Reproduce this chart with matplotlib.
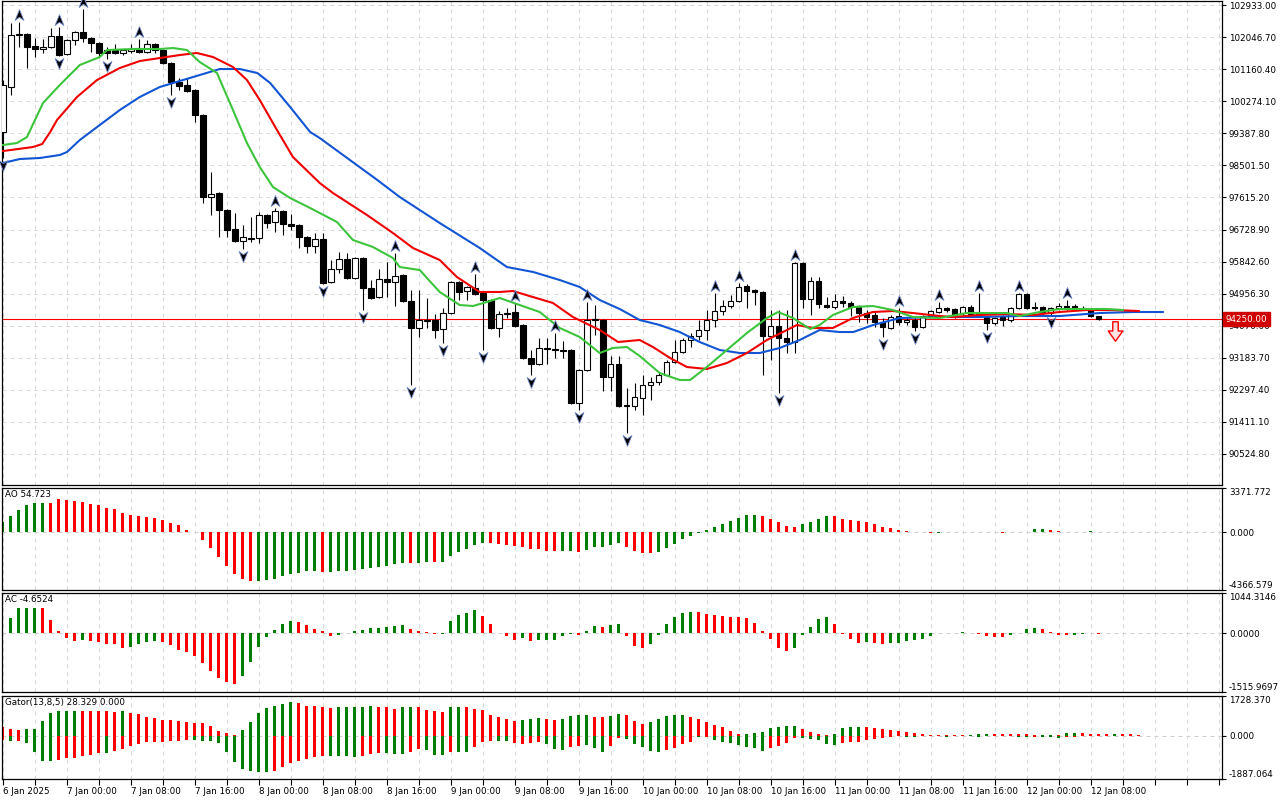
import numpy as np
import matplotlib.pyplot as plt
from matplotlib.path import Path
from matplotlib.transforms import offset_copy

# hourly candles, first bar = 6 Jan 16:00
opens = [99423, 100667, 102118, 102132, 101800, 101717, 101772, 102076, 101579, 101966,
         102187, 102021, 101883, 101689, 101689, 101607, 101662, 101745, 101634, 101855,
         101689, 101330, 100805, 100722, 100584, 99893, 97627, 97738, 97268, 96743,
         96411, 96480, 96494, 97130, 96936, 97240, 96881, 96853, 96522, 96273,
         96466, 95278, 95637, 95914, 95388, 95941, 95112, 94863, 95361, 95278,
         95471, 94753, 94007, 94214, 94228, 93979, 94421, 95278, 95029, 95112,
         94974, 94780, 94007, 94394, 94449, 94090, 93178, 93012, 93454, 93426,
         93399, 93399, 91934, 92846, 94228, 94228, 92652, 93012, 91851, 91851,
         92072, 92431, 92514, 92708, 93067, 93343, 93675, 93786, 93951, 94228,
         94476, 94615, 94753, 95167, 95057, 95002, 93786, 94062, 93730, 93620,
         95803, 94808, 95306, 94642, 94587, 94753, 94698, 94587, 94421, 94366,
         94172, 94007, 94338, 94172, 94228, 94034, 94338, 94449, 94559, 94532,
         94421, 94587, 94449, 94311, 94145, 94311, 94228, 94559, 94946, 94587,
         94587, 94421, 94559, 94615, 94615, 94559, 94504, 94338]
highs = [100860, 102436, 102463, 102159, 102021, 101993, 102297, 102325, 101993, 102215,
         102823, 102049, 101911, 101772, 101855, 101717, 101855, 101993, 101966, 101883,
         101717, 101358, 100916, 100916, 100612, 99921, 98318, 97765, 97295, 97185,
         96853, 97074, 97212, 97157, 97323, 97268, 97157, 96881, 96549, 96632,
         96632, 95886, 96107, 96079, 95969, 95969, 95333, 95637, 95831, 96079,
         95499, 95057, 95057, 94836, 94394, 94559, 95306, 95306, 95167, 95499,
         95002, 94808, 94476, 94559, 94698, 94117, 93399, 93730, 93730, 93868,
         93647, 93426, 92874, 94725, 94642, 94255, 93233, 93233, 92348, 92487,
         92708, 92652, 92791, 93122, 93675, 93730, 93868, 94228, 94504, 94974,
         94780, 94919, 95250, 95223, 95084, 95029, 94504, 94504, 94504, 95831,
         95831, 95416, 95416, 94863, 94946, 94891, 94753, 94642, 94504, 94449,
         94283, 94366, 94559, 94311, 94283, 94366, 94504, 94725, 94587, 94559,
         94615, 94642, 94974, 94338, 94311, 94366, 94587, 94974, 94974, 94725,
         94615, 94587, 94698, 94780, 94670, 94615, 94532, 94352]
lows = [98705, 100446, 101772, 101192, 101496, 101607, 101745, 101524, 101551, 101828,
        101911, 101634, 101496, 101441, 101579, 101551, 101607, 101607, 101607, 101607,
        101303, 100446, 100584, 100529, 99700, 97461, 97130, 96522, 96522, 96383,
        96190, 96383, 96356, 96770, 96660, 96577, 96715, 96218, 96079, 96079,
        95223, 95250, 95527, 95361, 95361, 94504, 94808, 94836, 94863, 94614,
        94725, 92431, 93758, 94007, 93730, 93592, 94394, 94780, 94780, 94919,
        93399, 93979, 93758, 94283, 94034, 93150, 92708, 92984, 93012, 93178,
        93178, 91906, 91740, 92818, 93813, 92266, 92266, 91823, 91105, 91740,
        91602, 92017, 92431, 92680, 93039, 93316, 93482, 93675, 93675, 94034,
        94366, 94559, 94725, 94559, 94642, 92708, 93122, 92210, 93316, 93316,
        94559, 94366, 94559, 94559, 94532, 94587, 94338, 94172, 94145, 94034,
        93758, 93979, 94090, 94090, 93924, 94007, 94311, 94421, 94449, 94283,
        94366, 94366, 94366, 93951, 94090, 94062, 94172, 94532, 94532, 94504,
        94394, 94366, 94504, 94504, 94504, 94504, 94311, 94230]
closes = [100722, 102104, 102132, 101772, 101717, 101772, 102076, 101551, 101966, 102187,
          102021, 101883, 101607, 101607, 101607, 101689, 101717, 101634, 101855, 101689,
          101330, 100805, 100695, 100556, 99893, 97627, 97710, 97268, 96715, 96411,
          96522, 96494, 97130, 96908, 97240, 96881, 96826, 96522, 96273, 96466,
          95250, 95637, 95914, 95388, 95941, 95112, 94836, 95361, 95278, 95444,
          94753, 94007, 94228, 94228, 93951, 94421, 95278, 95002, 95140, 94946,
          94780, 94007, 94394, 94421, 94062, 93178, 93012, 93454, 93440, 93412,
          93385, 91934, 92846, 94228, 94241, 92652, 93012, 91851, 91879, 92100,
          92431, 92514, 92708, 93067, 93343, 93675, 93786, 93951, 94228, 94476,
          94615, 94753, 95140, 95029, 95002, 93786, 94062, 93730, 93620, 95803,
          94808, 95306, 94670, 94587, 94753, 94698, 94587, 94421, 94311, 94172,
          94034, 94311, 94172, 94228, 94034, 94338, 94476, 94559, 94504, 94311,
          94587, 94394, 94394, 94145, 94283, 94228, 94559, 94946, 94559, 94559,
          94421, 94559, 94615, 94559, 94532, 94532, 94338, 94250]

fractal_up = [2, 7, 10, 17, 34, 49, 59, 64, 69, 73, 89, 92, 99, 112, 117, 122, 127, 133]
fractal_down = [0, 7, 13, 21, 30, 40, 45, 51, 55, 60, 66, 72, 78, 97, 110, 114, 123, 131]

# alligator lines (already shifted), x in bars
jaw_x = [0, 2.1, 4.6, 7.1, 8, 9.6, 12.1, 14.6, 17.1, 19.6, 22.1, 24.6, 27.1, 29.6, 31.8, 33.4,
         35.9, 38.4, 39.6, 46.8, 49.6, 54.6, 59.6, 63, 66.3, 69.6, 72.1, 74.6, 77.1, 79.6, 82.1,
         84.6, 87.1, 89.6, 92.1, 94.6, 97.1, 99.6, 102.1, 104.6, 106.3, 108.8, 112.1, 117.1,
         122.1, 127.1, 132.1, 137.1, 141.3, 145]
jaw_y = [98567, 98677, 98705, 98788, 98871, 99202, 99617, 100031, 100391, 100667, 100833,
         100999, 101164, 101164, 101054, 100777, 100114, 99423, 99257, 98097, 97627, 96908,
         96218, 95692, 95554, 95333, 95140, 94780, 94532, 94228, 94090, 93896, 93620, 93399,
         93316, 93316, 93454, 93675, 93951, 93896, 93896, 94090, 94283, 94311, 94311, 94338,
         94338, 94421, 94449, 94449]
teeth_x = [0, 3.75, 4.9, 5.9, 6.75, 9.25, 11.75, 14.6, 17.1, 19.6, 22.1, 24.25, 26.25, 28.75,
           30.5, 32.1, 34.25, 36.25, 39.6, 41.25, 45.5, 48.75, 51.25, 54.6, 56.75, 59.6, 62.1,
           63.75, 66.25, 68.75, 71.25, 74.6, 76.9, 79.6, 81.25, 83.4, 85.5, 88, 90.5, 93, 95.5,
           98, 99.25, 101.25, 103.75, 106.25, 108.75, 111.25, 113.75, 117.1, 118.75, 122.1,
           125.5, 128.75, 132.1, 135.5, 138.75, 142]
teeth_y = [98898, 99009, 99092, 99423, 99755, 100391, 100860, 101192, 101385, 101468, 101551,
           101607, 101496, 101220, 100860, 100308, 99479, 98732, 98014, 97738, 97130, 96632,
           96218, 95886, 95416, 95002, 95002, 95029, 94863, 94698, 94311, 93951, 93620, 93675,
           93482, 93178, 92929, 92874, 93039, 93316, 93675, 93951, 94090, 94007, 94007, 94283,
           94449, 94476, 94421, 94338, 94311, 94366, 94394, 94366, 94449, 94504, 94504, 94476]
lips_x = [0, 1.75, 3, 5, 7.1, 9.6, 12.1, 13, 16.25, 19.6, 21.25, 23, 24.6, 26.75, 28.75, 30.5,
          32.1, 33.75, 35.9, 38.4, 39.6, 41.75, 43.75, 46.25, 48.75, 49.6, 52.1, 53, 54.6, 57.1,
          58.75, 60.5, 62.1, 64.6, 67.1, 69.6, 72.1, 74.6, 76.25, 78, 79.6, 82.1, 84.6, 85.9, 88,
          90.5, 93, 95.5, 96.9, 98.75, 100.9, 102.1, 103.75, 106.25, 108.75, 111.25, 113.75,
          117.1, 120.5, 123, 125.5, 127.1, 129.6, 132.1, 135.5, 138, 140]
lips_y = [99064, 99119, 99285, 100225, 100722, 101275, 101496, 101689, 101717, 101717, 101745,
          101689, 101358, 101054, 100031, 99119, 98456, 97903, 97599, 97323, 97185, 96936, 96439,
          96245, 95941, 95692, 95610, 95388, 95002, 94642, 94615, 94725, 94836, 94642, 94449,
          94007, 93758, 93316, 93454, 93482, 93233, 92763, 92570, 92570, 92929, 93399, 93868,
          94283, 94449, 94283, 93979, 94090, 94366, 94587, 94615, 94504, 94311, 94283, 94421,
          94421, 94421, 94338, 94449, 94532, 94532, 94532, 94504]

current_price = 94250.00
sell_bar, sell_price = 139, 93924

price_ticks = [102933.00, 102046.70, 101160.40, 100274.10, 99387.80, 98501.50, 97615.20,
               96728.90, 95842.60, 94956.30, 94070.00, 93183.70, 92297.40, 91411.10, 90524.80]
time_labels = ["6 Jan 2025", "7 Jan 00:00", "7 Jan 08:00", "7 Jan 16:00", "8 Jan 00:00",
               "8 Jan 08:00", "8 Jan 16:00", "9 Jan 00:00", "9 Jan 08:00", "9 Jan 16:00",
               "10 Jan 00:00", "10 Jan 08:00", "10 Jan 16:00", "11 Jan 00:00", "11 Jan 08:00",
               "11 Jan 16:00", "12 Jan 00:00", "12 Jan 08:00"]

ao_values = [784, 1214, 1720, 2049, 2252, 2260, 2250, 2555, 2479, 2378,
             2302, 2176, 2049, 1872, 1746, 1493, 1341, 1240, 1164, 1113,
             961, 734, 531, 202, 25, -585, -1171, -1858, -2545, -3181,
             -3563, -3716, -3690, -3640, -3563, -3334, -3130, -3054, -2952, -2940,
             -3003, -2990, -2952, -2901, -2825, -2749, -2698, -2621, -2570, -2418,
             -2290, -2300, -2285, -2240, -2250, -2230, -1780, -1476, -1222, -967,
             -789, -800, -890, -967, -1043, -1069, -1222, -1247, -1400, -1425,
             -1400, -1374, -1476, -1298, -1120, -1094, -967, -789, -1094, -1400,
             -1552, -1560, -1476, -1145, -840, -534, -280, -76, 178, 382,
             636, 865, 1094, 1323, 1330, 1247, 1018, 814, 484, 407,
             636, 814, 1018, 1247, 1240, 1018, 942, 865, 814, 636,
             407, 305, 153, 80, 30, 10, -20, -10, 10, 30,
             60, 70, 50, 30, 10, -15, 0, 30, 60, 230,
             280, 180, 90, 70, 50, 60, 75, 54.723]
ao_colors = ("ggggggrrrr rrrrrrrrrr rrrrrrrrrr rrgggggggg rggggggggg grggrggggg grrrrrrrrr "
             "ggrgggggrr rrgggggggg gggggrrrrr ggggrrrrrr rrrrrrrggg ggrrrrgggg grrrrggr")

ac_values = [np.nan, 404, 657, 660, 662, 655, 345, 50, -126, -185,
             -160, -202, -227, -269, -286, -379, -354, -269, -227, -185,
             -210, -295, -438, -480, -589, -758, -960, -1154, -1263, -1297,
             -1095, -733, -354, -101, 93, 236, 320, 295, 210, 126,
             51, -76, -34, 8, 67, 93, 143, 152, 177, 202,
             219, 118, 67, 42, -17, -8, 320, 472, 530, 598,
             446, 244, 17, -76, -160, -126, -185, -180, -175, -165,
             -59, -17, -42, 67, 194, 177, 227, 230, -76, -328,
             -374, -264, -34, 247, 434, 528, 562, 560, 502, 485,
             443, 434, 430, 400, 272, 51, -136, -366, -451, -366,
             -34, 162, 374, 417, 247, -9, -136, -238, -221, -247,
             -264, -260, -247, -196, -162, -136, -68, 5, 17, 20,
             43, 17, -9, -68, -94, -96, -34, 17, 119, 145,
             119, 43, -34, -51, -34, -9, 8, -4.6524]
ac_colors = ("gggggrrrrr grrrrrgggg rrrrrrrrrr gggggggrrr rrgggggggg grrrrggggg rrrrrgrggg "
             "ggrggrggrr rggggggrrr rrrrrrrrrg ggggrrrrgr rggggggggg grrrrrgggg rrrrgggr")

gator_up = [390, 289, 246, 289, 300, 651, 969, 1085, 1090, 1095,
            1080, 1075, 1070, 1056, 1050, 1060, 983, 940, 795, 790,
            694, 680, 651, 607, 549, 545, 405, 217, 116, 40,
            246, 607, 969, 1186, 1301, 1374, 1446, 1403, 1301, 1272,
            1229, 1225, 1230, 1235, 1240, 1245, 1301, 1258, 1255, 1157,
            1229, 1235, 1229, 1128, 1085, 1041, 1229, 1258, 1229, 1157,
            1128, 897, 824, 723, 651, 680, 723, 766, 709, 694,
            723, 868, 911, 920, 824, 795, 839, 940, 882, 651,
            506, 607, 723, 868, 911, 915, 824, 723, 607, 477,
            362, 217, 72, 85, 101, 174, 333, 390, 405, 434,
            289, 174, 72, 30, 72, 333, 362, 390, 362, 318,
            289, 246, 217, 174, 116, 72, 50, 40, 35, 30,
            28, 35, 70, 90, 80, 75, 70, 65, 55, 40,
            45, 50, 30, 110, 120, 100, 90, 75, 70, 80,
            65, 55, 28.329]
gator_up_colors = ("rrrggggggg rrrrrgrrrr rrrrrrrrrr gggggggrrr rrgggggrrr ggrrrrggrr rrrrrgggrr "
                   "ggggrrggrr rgggggrrrr rrrggggggg rrrrggggrr rrrrrrrrrr rgggrrrrrr ggrggrrrrg rrr")
gator_down = [-174, -217, -217, -333, -723, -1085, -1090, -1041, -983, -980,
              -897, -839, -766, -770, -680, -578, -434, -362, -289, -285,
              -280, -246, -217, -202, -205, -246, -250, -333, -723, -1157,
              -1446, -1547, -1562, -1591, -1518, -1345, -1186, -1085, -1012, -940,
              -868, -870, -875, -880, -940, -868, -795, -752, -755, -795,
              -800, -723, -578, -622, -824, -839, -723, -725, -730, -477,
              -289, -217, -220, -246, -304, -362, -333, -289, -362, -578,
              -622, -506, -434, -405, -535, -723, -463, -116, -145, -362,
              -477, -651, -694, -607, -535, -362, -260, -72, -70, -174,
              -260, -333, -405, -506, -535, -651, -535, -463, -333, -101,
              -116, -145, -188, -362, -405, -333, -289, -260, -174, -145,
              -116, -72, -29, -72, -75, -14, -20, -15, -40, -20,
              -15, -10, -45, -30, -20, -10, -15, -45, -60, -40,
              -55, -72, -100, -60, -40, -20, -15, -10, -8, -5,
              0]
gator_down_colors = ("rgrggggrrr rrrgrrrrrr rrrrgggggg ggggrrrrrr rggggrrrgg grrgggrggr rrggrrrrgg "
                     "grrgggrrgg gggrrrrgrg ggggggrrrr gggggrrrrr rrrggrrrgr rrgrrrgggr gggrrrrrrr r")

GREEN, RED = '#008000', '#ff0000'
GRID = '#d9d9d9'
FS = 6.3

plt.rcParams['font.family'] = 'DejaVu Sans'
plt.rcParams['font.size'] = FS


def bar_colors(s):
    return [GREEN if c == 'g' else RED for c in s.replace(' ', '')]


fig = plt.figure(figsize=(12.8, 8), dpi=100)
left, width = 2 / 1280, 1220 / 1280
ax = fig.add_axes([left, 1 - 485 / 800, width, 484 / 800])
ax_ao = fig.add_axes([left, 1 - 590 / 800, width, 102 / 800])
ax_ac = fig.add_axes([left, 1 - 692 / 800, width, 99 / 800])
ax_g = fig.add_axes([left, 1 - 779 / 800, width, 83 / 800])

grid_ticks = np.arange(0, 153, 4)
for a in (ax, ax_ao, ax_ac, ax_g):
    a.set_xlim(-0.125, 152.4)
    a.set_xticks(grid_ticks)
    a.yaxis.tick_right()
    a.tick_params(axis='y', length=3, width=0.8, pad=2, labelsize=FS)
    a.tick_params(axis='x', length=0, labelbottom=False)
    a.grid(axis='x', color=GRID, lw=0.72, ls=(0, (4, 4)))
    a.set_axisbelow(True)
    for s in a.spines.values():
        s.set_linewidth(0.9)

# ---- main chart
x = np.arange(len(opens))
o, h, l, c = map(np.array, (opens, highs, lows, closes))
bull = c >= o
ax.set_ylim(89668, 103044)
ax.set_yticks(price_ticks)
ax.set_yticklabels(['%.2f' % v for v in price_ticks])
ax.grid(axis='y', color=GRID, lw=0.72, ls=(0, (4, 4)))
ax.axhline(current_price, color=RED, lw=0.8, zorder=1.6)

ax.vlines(x, l, h, color='black', lw=0.8, zorder=2)
ax.bar(x, np.maximum(np.abs(c - o), 20), bottom=np.minimum(o, c), width=0.65,
       color=np.where(bull, 'white', 'black'), edgecolor='black', lw=0.8, zorder=3)

ax.plot(jaw_x, jaw_y, color='#1155d4', lw=1.5, zorder=4)
ax.plot(teeth_x, teeth_y, color='#f00000', lw=1.5, zorder=4)
ax.plot(lips_x, lips_y, color='#3cc43c', lw=1.5, zorder=4)

up_path = Path([(0, 1), (0.75, -0.85), (0, -0.3), (-0.75, -0.85), (0, 1)],
               [Path.MOVETO, Path.LINETO, Path.LINETO, Path.LINETO, Path.CLOSEPOLY])
down_path = Path([(0, -1), (0.75, 0.85), (0, 0.3), (-0.75, 0.85), (0, -1)],
                 [Path.MOVETO, Path.LINETO, Path.LINETO, Path.LINETO, Path.CLOSEPOLY])
t_up = offset_copy(ax.transData, fig=fig, y=7, units='dots')
t_dn = offset_copy(ax.transData, fig=fig, y=-7, units='dots')
ax.plot(fractal_up, h[fractal_up], ls='none', marker=up_path, ms=8.5, mfc='black',
        mec='#7088c4', mew=0.6, transform=t_up, zorder=5, clip_on=False)
ax.plot(fractal_down, l[fractal_down], ls='none', marker=down_path, ms=8.5, mfc='black',
        mec='#7088c4', mew=0.6, transform=t_dn, zorder=5, clip_on=False)

arrow = Path([(-0.28, 1), (0.28, 1), (0.28, 0.05), (0.75, 0.05), (0, -1), (-0.75, 0.05),
              (-0.28, 0.05), (-0.28, 1)],
             [Path.MOVETO] + [Path.LINETO] * 6 + [Path.CLOSEPOLY])
ax.plot([sell_bar], [sell_price], marker=arrow, ms=14, mfc='#ffe2e2', mec=RED, mew=1,
        ls='none', zorder=6)

ax.annotate('%.2f' % current_price, xy=(1, current_price), xycoords=('axes fraction', 'data'),
            xytext=(2.5, 0), textcoords='offset points', va='center', ha='left', color='white',
            fontsize=FS, annotation_clip=False, zorder=10,
            bbox=dict(boxstyle='square,pad=0.3', fc='#d00000', ec='#d00000'))

# ---- oscillators
def oscillator(a, xs, vals, cols, lo, hi, fmt, label):
    a.bar(xs, vals, width=0.375, color=bar_colors(cols), lw=0, zorder=2)
    a.axhline(0, color='#cfcfcf', lw=0.72, ls=(0, (4, 4)), zorder=1)
    a.set_ylim(lo, hi)
    a.set_yticks([lo, 0, hi])
    a.set_yticklabels([fmt % lo, fmt % 0, fmt % hi])
    labs = a.get_yticklabels()
    labs[0].set_va('bottom')
    labs[-1].set_va('top')
    a.annotate(label, xy=(0, 1), xycoords='axes fraction', xytext=(3, -2),
               textcoords='offset pixels', va='top', ha='left', fontsize=FS)


oscillator(ax_ao, x, ao_values, ao_colors, -4366.579, 3371.772, '%.3f', 'AO 54.723')
oscillator(ax_ac, x, ac_values, ac_colors, -1515.9697, 1044.3146, '%.4f', 'AC -4.6524')
oscillator(ax_g, np.arange(len(gator_up)), gator_up, gator_up_colors, -1887.064, 1728.370,
           '%.3f', 'Gator(13,8,5) 28.329 0.000')
ax_g.bar(np.arange(len(gator_down)), gator_down, width=0.375,
         color=bar_colors(gator_down_colors), lw=0, zorder=2)

xt = [time_labels[t // 8] if t % 8 == 0 and t // 8 < len(time_labels) else '' for t in grid_ticks]
ax_g.set_xticklabels(xt)
ax_g.tick_params(axis='x', length=4, width=0.8, labelbottom=True, pad=2, labelsize=FS)
for lab in ax_g.get_xticklabels():
    lab.set_ha('left')

fig.savefig('out.png', dpi=100, facecolor='white')
